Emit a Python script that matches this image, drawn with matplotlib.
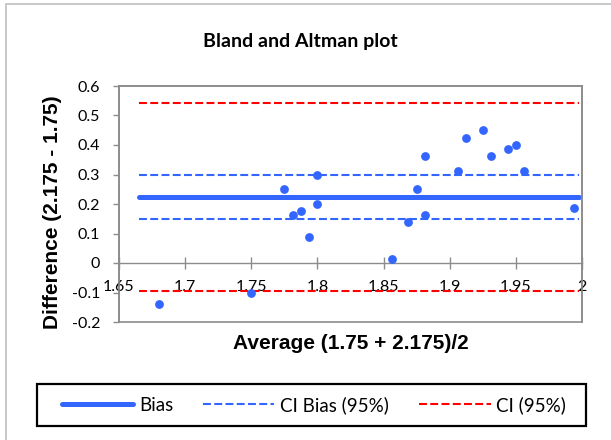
import matplotlib
matplotlib.use("Agg")
import matplotlib.pyplot as plt
from matplotlib.lines import Line2D
from matplotlib.patches import Rectangle

# Data
avg = [1.68, 1.75, 1.775, 1.78125, 1.7875, 1.79375, 1.8, 1.8, 1.85625, 1.86875, 1.875,
       1.88125, 1.88125, 1.90625, 1.9125, 1.925, 1.93125, 1.94375, 1.95, 1.95625, 1.99375]
diff = [-0.1375, -0.1, 0.25, 0.1625, 0.175, 0.0875, 0.3, 0.2, 0.0125, 0.1375, 0.25,
        0.1625, 0.3625, 0.3125, 0.425, 0.45, 0.3625, 0.3875, 0.4, 0.3125, 0.1875]
bias = 0.224
ci_bias = [0.149, 0.297]
ci = [-0.095, 0.542]
line_x = [1.665, 1.9975]

x_ticks = [1.65, 1.7, 1.75, 1.8, 1.85, 1.9, 1.95, 2.0]
x_labels = ["1.65", "1.7", "1.75", "1.8", "1.85", "1.9", "1.95", "2"]
y_ticks = [-0.2, -0.1, 0, 0.1, 0.2, 0.3, 0.4, 0.5, 0.6]
y_labels = ["-0.2", "-0.1", "0", "0.1", "0.2", "0.3", "0.4", "0.5", "0.6"]

blue = "#3366ff"
red = "#ff0000"
grey = "#8c8c8c"

W, H = 611, 440
fig = plt.figure(figsize=(W / 100, H / 100), dpi=100)

# outer chart border
fig.patches.append(Rectangle((6 / W, -0.1), 1.2, 1 - 4 / H + 0.1, transform=fig.transFigure,
                             fill=False, edgecolor="#bfbfbf", linewidth=1.2))

ax = fig.add_axes([119 / W, 1 - 322 / H, 463 / W, 236 / H])
ax.set_xlim(1.65, 2.0)
ax.set_ylim(-0.2, 0.6)

ax.plot(line_x, [bias, bias], color=blue, linewidth=3.6, solid_capstyle="round")
for v in ci_bias:
    ax.plot(line_x, [v, v], color=blue, linewidth=1.5, dashes=(3.8, 1.6))
for v in ci:
    ax.plot(line_x, [v, v], color=red, linewidth=1.5, dashes=(3.8, 1.6))
ax.scatter(avg, diff, s=40, color=blue, zorder=5, linewidths=0)

# axes styling
for s in ["top", "right", "left"]:
    ax.spines[s].set_color(grey)
    ax.spines[s].set_linewidth(1.2)
ax.spines["bottom"].set_position(("data", 0))
ax.spines["bottom"].set_color(grey)
ax.spines["bottom"].set_linewidth(1.0)
ax.add_patch(Rectangle((0, 0), 1, 1, transform=ax.transAxes, fill=False,
                       edgecolor=grey, linewidth=1.2, clip_on=False))

ax.set_xticks(x_ticks)
ax.set_xticklabels(x_labels, family="Lato", fontsize=11.5)
ax.set_yticks(y_ticks)
ax.set_yticklabels(y_labels, family="Lato", fontsize=11.5)
ax.tick_params(axis="x", direction="inout", length=9, width=1, color=grey, pad=8)
ax.tick_params(axis="y", direction="out", length=4.5, width=1, color=grey, pad=9)

fig.text(300 / W, 1 - 41 / H, "Bland and Altman plot", ha="center", va="center",
         family="Lato", fontweight="bold", fontsize=14)
fig.text(351 / W, 1 - 343 / H, "Average (1.75 + 2.175)/2", ha="center", va="center",
         family="Liberation Sans", fontweight="bold", fontsize=15)
fig.text(53 / W, 1 - 212 / H, "Difference (2.175 - 1.75)", ha="center", va="center",
         rotation=90, family="Liberation Sans", fontweight="bold", fontsize=15)

# legend box
fig.patches.append(Rectangle((37 / W, 1 - 426 / H), 549 / W, 42 / H, transform=fig.transFigure,
                             fill=False, edgecolor="black", linewidth=1.6))
handles = [
    Line2D([], [], color=blue, linewidth=3.6, solid_capstyle="round"),
    Line2D([], [], color=blue, linewidth=1.5, dashes=(3.8, 1.6)),
    Line2D([], [], color=red, linewidth=1.5, dashes=(3.8, 1.6)),
]
fig.legend(handles, ["Bias", "CI Bias (95%)", "CI (95%)"], ncol=3, loc="center",
           bbox_to_anchor=(314 / W, 1 - 405 / H), frameon=False,
           prop={"family": "Lato", "size": 13.5}, handlelength=3.8, handletextpad=0.32,
           columnspacing=1.6, borderpad=0, borderaxespad=0)

fig.savefig("out.png", dpi=100)
